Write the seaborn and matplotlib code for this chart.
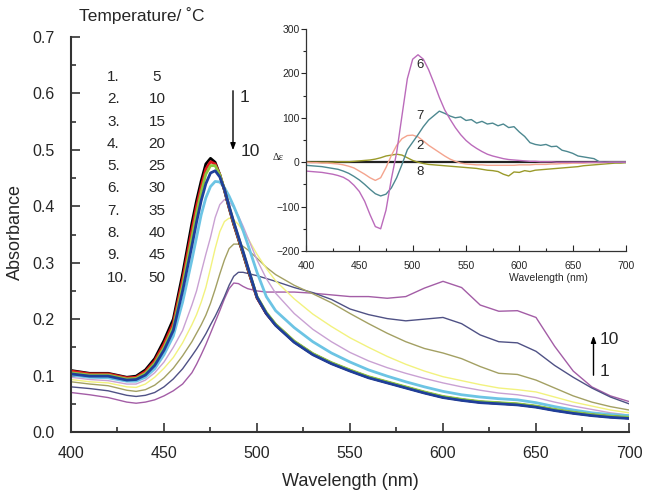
import numpy as np
import pandas as pd
import matplotlib
matplotlib.use("Agg")
import matplotlib.pyplot as plt
import seaborn as sns

# ---------------- data ----------------
wavelength = [400, 410, 420, 430, 435, 440, 445, 450, 455, 460, 465, 467.5, 470, 472.5,
              475, 477.5, 480, 482.5, 485, 487.5, 490, 492.5, 495, 500, 505, 510, 520,
              530, 540, 550, 560, 570, 580, 590, 600, 610, 620, 630, 640, 650, 660, 670,
              680, 690, 700]

abs_1 = [.109, .104, .104, .097, .099, .110, .130, .162, .200, .280, .370, .410, .445, .475,
         .485, .478, .456, .428, .397, .368, .342, .316, .289, .238, .210, .190, .160,
         .138, .122, .109, .097, .088, .079, .070, .062, .057, .053, .051, .049, .045, .039, .034,
         .030, .027, .025]
abs_2 = [.108, .103, .103, .096, .097, .107, .126, .156, .193, .270, .358, .400, .435, .466,
         .479, .475, .456, .429, .398, .369, .343, .317, .290, .238, .210, .190, .160,
         .138, .122, .109, .097, .088, .079, .070, .062, .057, .053, .051, .049, .045, .039, .034,
         .030, .027, .025]
abs_3 = [.105, .101, .101, .094, .095, .104, .122, .150, .186, .260, .345, .388, .425, .457,
         .472, .472, .456, .430, .400, .371, .345, .319, .292, .240, .212, .191, .161,
         .139, .123, .110, .098, .089, .080, .071, .063, .058, .054, .052, .050, .046, .040, .035,
         .031, .028, .026]
abs_4 = [.103, .099, .099, .092, .093, .101, .118, .145, .180, .250, .330, .372, .410, .440,
         .459, .463, .452, .430, .400, .372, .346, .320, .293, .239, .210, .189, .159,
         .137, .121, .108, .096, .087, .078, .069, .061, .056, .052, .050, .048, .044, .038, .033,
         .029, .026, .024]
abs_5 = [.101, .097, .096, .090, .090, .097, .112, .137, .170, .230, .305, .345, .385, .415,
         .435, .444, .443, .433, .418, .400, .380, .357, .333, .283, .240, .215, .185,
         .160, .140, .124, .110, .099, .089, .080, .072, .066, .062, .059, .057, .052, .045, .039,
         .034, .031, .029]
abs_6 = [.097, .093, .091, .085, .085, .092, .105, .124, .150, .180, .225, .250, .283, .315,
         .345, .380, .403, .412, .408, .398, .383, .365, .345, .305, .272, .246, .210,
         .182, .160, .141, .126, .114, .104, .095, .087, .080, .074, .069, .066, .061, .053, .046,
         .040, .034, .030]
abs_7 = [.093, .089, .087, .080, .079, .085, .097, .113, .132, .158, .190, .208, .230, .256,
         .290, .325, .355, .373, .379, .376, .368, .356, .344, .315, .290, .268, .236,
         .209, .187, .167, .150, .134, .120, .108, .098, .091, .084, .078, .075, .071, .062, .053,
         .046, .039, .034]
abs_8 = [.089, .085, .082, .074, .072, .075, .083, .096, .113, .135, .160, .175, .190, .207,
         .228, .253, .280, .305, .325, .333, .333, .329, .323, .308, .292, .279, .260,
         .245, .229, .210, .192, .175, .160, .148, .140, .130, .116, .104, .102, .092, .078, .064,
         .053, .045, .039]
abs_9 = [.080, .077, .073, .065, .063, .065, .070, .080, .094, .112, .135, .147, .160, .174,
         .190, .205, .222, .240, .260, .276, .283, .283, .281, .277, .272, .267, .256,
         .247, .235, .218, .208, .201, .197, .200, .203, .192, .172, .160, .158, .143, .118, .097,
         .078, .062, .050]
abs_10 = [.070, .066, .061, .053, .051, .053, .057, .064, .073, .085, .105, .120, .137, .155,
          .175, .195, .215, .236, .254, .264, .263, .258, .254, .250, .248, .248, .248,
          .246, .243, .240, .240, .237, .240, .255, .267, .256, .225, .214, .215, .203, .152, .108,
          .080, .064, .054]

curve_labels = ["1.", "2.", "3.", "4.", "5.", "6.", "7.", "8.", "9.", "10."]
temperatures = ["5", "10", "15", "20", "25", "30", "35", "40", "45", "50"]

wl_cd = [400, 405, 410, 415, 420, 425, 430, 435, 440, 445, 450, 455, 460, 465, 470, 475,
         480, 485, 490, 495, 500, 505, 510, 515, 520, 525, 530, 535, 540, 545, 550, 555,
         560, 565, 570, 575, 580, 585, 590, 595, 600, 605, 610, 615, 620, 625, 630, 635,
         640, 645, 650, 655, 660, 665, 670, 675, 680, 685, 690, 695, 700]
cd_2 = [0, -1, -1, -2, -2, -3, -4, -6, -9, -13, -20, -27, -35, -41, -35, -12,
        15, 38, 53, 60, 61, 57, 48, 38, 30, 22, 14, 7, 2, -2, -4, -5,
        -6, -6, -7, -7, -7, -7, -7, -7, -6, -6, -6, -5, -5, -5, -4, -4,
        -3, -3, -2, -2, -2, -1, -1, -1, -1, 0, 0, 0, 0]
cd_6 = [-20, -21, -22, -23, -25, -27, -30, -34, -41, -52, -66, -88, -118, -145, -150, -108,
        -38, 22, 105, 188, 232, 242, 232, 208, 178, 146, 118, 97, 78, 62, 49, 39,
        31, 24, 18, 14, 11, 8, 6, 5, 4, 3, 2, 2, 1, 1, 1, 0,
        0, 0, 0, 0, 0, 0, 0, 0, 0, 0, 0, 0, 0]
cd_7 = [-7, -8, -9, -10, -12, -14, -16, -20, -25, -32, -40, -50, -61, -71, -76, -72,
        -58, -35, -5, 28, 45, 62, 80, 95, 105, 115, 110, 104, 100, 102, 94, 96,
        88, 92, 86, 88, 82, 86, 78, 80, 68, 58, 44, 40, 38, 40, 35, 36,
        27, 24, 20, 14, 12, 10, 8, 1, 0, 0, 0, 0, 0]
cd_8 = [0, 0, 0, 0, 0, 0, 1, 1, 1, 2, 3, 4, 5, 7, 10, 14,
        16, 18, 16, 10, 4, 0, -3, -5, -6, -7, -8, -9, -10, -11, -12, -13,
        -14, -16, -18, -19, -21, -27, -31, -22, -23, -19, -21, -18, -17, -16, -15, -14,
        -13, -12, -11, -10, -8, -7, -6, -5, -4, -3, -2, -2, -1]
cd_zero = [0] * len(wl_cd)

main_colors = ["#000000", "#e3171e", "#8dc63f", "#1f3f9a", "#6cc4e4",
               "#c9a1d3", "#f2f27e", "#a3a063", "#4f5185", "#a35da6"]
main_widths = [2.0, 2.0, 2.0, 2.0, 2.0, 1.0, 1.0, 1.0, 1.0, 1.0]

# ---------------- figure ----------------
sns.set_style("ticks")
plt.rcParams["font.family"] = ["Liberation Sans", "DejaVu Sans"]

W, H = 653, 493
fig = plt.figure(figsize=(W / 100, H / 100), dpi=100)


def fx(px):
    return px / W


def fy(py):
    return 1 - py / H


ax = fig.add_axes([fx(71), fy(432), fx(629) - fx(71), fy(37) - fy(432)])
all_abs = [abs_1, abs_2, abs_3, abs_4, abs_5, abs_6, abs_7, abs_8, abs_9, abs_10]
df = pd.DataFrame({"wl": wavelength * 10,
                   "A": np.concatenate(all_abs),
                   "curve": np.repeat(curve_labels, len(wavelength))})
draw_order = [9, 8, 7, 6, 5, 4, 0, 1, 2, 3]
for i in draw_order:
    sub = df[df["curve"] == curve_labels[i]]
    sns.lineplot(data=sub, x="wl", y="A", ax=ax, color=main_colors[i],
                 lw=main_widths[i], legend=False)

ax.set_xlim(400, 700)
ax.set_ylim(0, 0.7)
ax.set_xticks([400, 450, 500, 550, 600, 650, 700])
ax.set_xticks([425, 475, 525, 575, 625, 675], minor=True)
ax.set_yticks([0, .1, .2, .3, .4, .5, .6, .7])
ax.set_yticks([.05, .15, .25, .35, .45, .55, .65], minor=True)
ax.set_yticklabels([f"{v:.1f}" for v in [0, .1, .2, .3, .4, .5, .6, .7]])
ax.tick_params(axis="both", which="major", direction="in", length=6.5, width=1.2,
               labelsize=11.5, color="#333333")
ax.tick_params(axis="both", which="minor", direction="in", length=3.5, width=1.2,
               color="#333333")
ax.tick_params(axis="y", which="major", pad=12)
ax.tick_params(axis="x", which="major", pad=10)
sns.despine(ax=ax)
for s in ["left", "bottom"]:
    ax.spines[s].set_linewidth(1.5)
    ax.spines[s].set_color("#333333")
ax.set_xlabel("")
ax.set_ylabel("")

fig.text(fx(350), fy(481), "Wavelength (nm)", ha="center", va="center", fontsize=13)
fig.text(fx(15), fy(232), "Absorbance", ha="center", va="center", fontsize=13,
         rotation=90)

# temperature legend text
fig.text(fx(142), fy(16), "Temperature/ \u02daC", ha="center", va="center", fontsize=12.5)
for i in range(10):
    y = 77 + 22.3 * i
    fig.text(fx(107), fy(y), curve_labels[i], ha="left", va="center", fontsize=11)
    fig.text(fx(157), fy(y), temperatures[i], ha="center", va="center", fontsize=11)

# arrows
fig.add_artist(matplotlib.patches.FancyArrowPatch(
    (fx(233), fy(88)), (fx(233), fy(153)), transform=fig.transFigure,
    arrowstyle="-|>,head_length=4,head_width=1.5", color="black", lw=1.0))
fig.text(fx(240), fy(97), "1", ha="left", va="center", fontsize=12.5)
fig.text(fx(241), fy(151), "10", ha="left", va="center", fontsize=12.5)
fig.add_artist(matplotlib.patches.FancyArrowPatch(
    (fx(593.5), fy(378)), (fx(593.5), fy(333)), transform=fig.transFigure,
    arrowstyle="-|>,head_length=4,head_width=1.5", color="black", lw=1.0))
fig.text(fx(600), fy(340), "10", ha="left", va="center", fontsize=12.5)
fig.text(fx(600), fy(372), "1", ha="left", va="center", fontsize=12.5)

# ---------------- inset ----------------
axi = fig.add_axes([fx(306), fy(251), fx(626) - fx(306), fy(29) - fy(251)])
axi.patch.set_alpha(0)
cd_series = [("zero", cd_zero, "#222222", 1.6), ("8", cd_8, "#9a9a2a", 1.0),
             ("2", cd_2, "#f4a48e", 1.0), ("7", cd_7, "#4d8890", 1.0),
             ("6", cd_6, "#bb6bbb", 1.0)]
for name, vals, col, lw in cd_series:
    sns.lineplot(x=wl_cd, y=vals, ax=axi, color=col, lw=lw, legend=False)

axi.set_xlim(400, 700)
axi.set_ylim(-200, 300)
axi.set_xticks([400, 450, 500, 550, 600, 650, 700])
axi.set_xticks([425, 475, 525, 575, 625, 675], minor=True)
axi.set_yticks([-200, -100, 0, 100, 200, 300])
axi.set_yticks([-150, -50, 50, 150, 250], minor=True)
axi.tick_params(axis="x", which="major", direction="in", length=4, width=0.8,
                labelsize=7.5, pad=7.5)
axi.tick_params(axis="x", which="minor", direction="in", length=2.5, width=0.8)
axi.tick_params(axis="y", which="major", direction="out", length=3.5, width=0.8,
                labelsize=7.5, pad=1)
axi.tick_params(axis="y", which="minor", direction="out", length=2, width=0.8)
sns.despine(ax=axi)
for s in ["left", "bottom"]:
    axi.spines[s].set_linewidth(0.9)
    axi.spines[s].set_color("#333333")
axi.set_xlabel("")
axi.set_ylabel("")
fig.text(fx(548), fy(278), "Wavelength (nm)", ha="center", va="center", fontsize=7.5)
fig.text(fx(278), fy(157), "\u0394\u03b5", ha="center", va="center", fontsize=7.5,
         family=["Liberation Serif", "DejaVu Serif"])

for lab, yv in [("6", 218), ("7", 104), ("2", 36), ("8", -22)]:
    axi.text(507, yv, lab, ha="center", va="center", fontsize=9.5)

fig.savefig("out.png", dpi=100, facecolor="white")
